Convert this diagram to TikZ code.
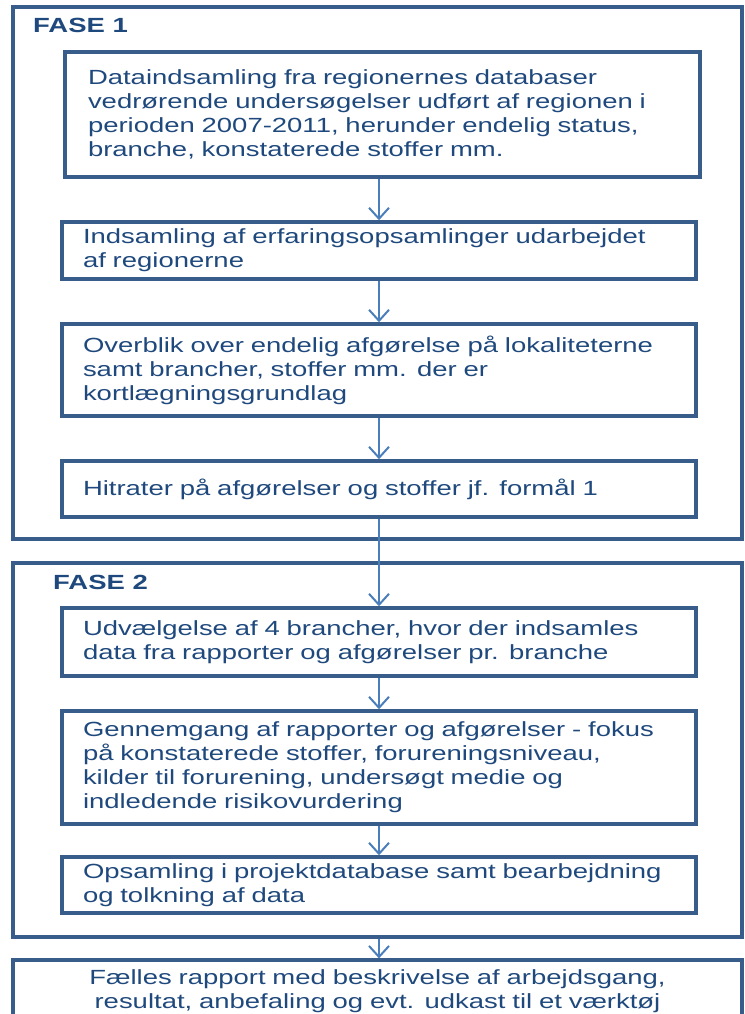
\documentclass[tikz,border=0pt]{standalone}
\usepackage{fontspec}
\setmainfont{Liberation Sans}[FakeStretch=1.34]
\usetikzlibrary{arrows.meta}
\definecolor{rand}{RGB}{56,93,138}
\definecolor{pil}{RGB}{74,126,187}
\definecolor{tekst}{RGB}{31,73,125}

\begin{document}
\begin{tikzpicture}[x=1pt, y=-1pt]

% TikZ styles
\tikzset{
  fase/.style={rectangle, draw=rand, line width=3.2pt, minimum width=729pt},
  trin/.style={rectangle, draw=rand, line width=3.5pt, text=tekst, align=left, inner xsep=21pt, text width=592pt, font=\fontsize{20.5}{24}\selectfont},
  slut/.style={rectangle, draw=rand, line width=3.2pt, text=tekst, align=center, text width=700pt, font=\fontsize{20.5}{24}\selectfont},
  titel/.style={text=tekst, anchor=west, inner sep=0pt, font=\fontsize{20.5}{24}\selectfont\bfseries},
  arrow/.style={draw=pil, line width=2pt, -{Straight Barb[length=11pt, width=20pt]}}
};

\useasboundingbox (0,0) rectangle (744,1014);

%==========================
% Fase 1
%==========================
\node[fase, minimum height=532pt] (fase1) at (377.5,273) {};
\node[titel] (fase1titel) at (33,25) {FASE 1};

\node[trin, inner xsep=23pt, text width=589pt, minimum height=125pt] (data) at (382.5,114.5) {Dataindsamling fra regionernes databaser \\ vedrørende undersøgelser udført  af regionen i \\ perioden 2007-2011, herunder endelig status, \\ branche, konstaterede stoffer mm.};
\node[trin, minimum height=57pt] (erfaring) at (379,250.5) {Indsamling af erfaringsopsamlinger udarbejdet \\ af regionerne};
\node[trin, minimum height=92pt] (overblik) at (379,370) {Overblik over endelig afgørelse på lokaliteterne \\ samt brancher, stoffer mm. der er \\ kortlægningsgrundlag};
\node[trin, minimum height=56pt] (hitrater) at (379,489) {Hitrater på afgørelser og stoffer jf. formål 1};

%==========================
% Fase 2
%==========================
\node[fase, minimum height=374pt] (fase2) at (377.5,750) {};
\node[titel] (fase2titel) at (53,582) {FASE 2};

\node[trin, minimum height=68pt] (udvalg) at (379,642) {Udvælgelse af 4 brancher, hvor der indsamles \\ data fra rapporter og afgørelser pr. branche};
\node[trin, minimum height=113pt] (gennemgang) at (379,767.5) {Gennemgang af rapporter og afgørelser  - fokus \\ på konstaterede stoffer, forureningsniveau, \\ kilder til forurening, undersøgt medie og \\ indledende risikovurdering};
\node[trin, minimum height=56pt] (opsamling) at (379,885) {Opsamling i projektdatabase samt bearbejdning \\ og tolkning af data};

% --- Rapport ---
\node[slut, minimum width=729pt, minimum height=62pt] (rapport) at (377.5,991) {Fælles rapport med beskrivelse af arbejdsgang, \\ resultat, anbefaling og evt. udkast til et værktøj};

% --- Pfeile ---
\draw[arrow] (erfaring.north |- data.south) -- (erfaring.north);
\draw[arrow] (erfaring.south) -- (overblik.north);
\draw[arrow] (overblik.south) -- (hitrater.north);
\draw[arrow] (hitrater.south) -- (udvalg.north);
\draw[arrow] (udvalg.south) -- (gennemgang.north);
\draw[arrow] (gennemgang.south) -- (opsamling.north);
\draw[arrow] (opsamling.south |- fase2.south) -- (opsamling.south |- rapport.north);
\end{tikzpicture}
\end{document}
